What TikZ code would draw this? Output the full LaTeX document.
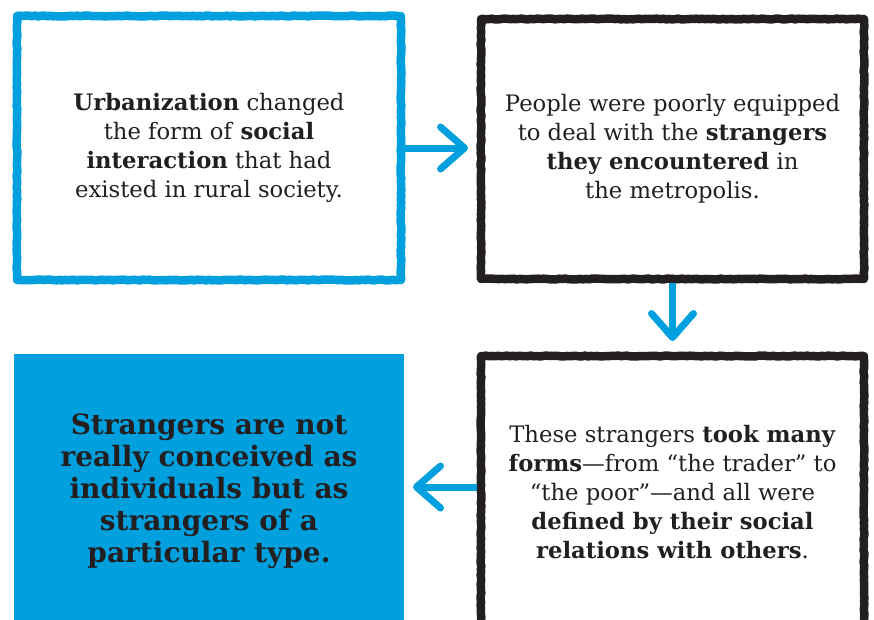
\documentclass[tikz,border=0pt]{standalone}
\usepackage{fontspec}
\setmainfont{DejaVu Serif}
\usetikzlibrary{arrows.meta, decorations.pathmorphing}

\definecolor{inkblue}{RGB}{0,160,222}
\definecolor{inkdark}{RGB}{35,31,32}

\begin{document}
\begin{tikzpicture}[x=1pt, y=-1pt,
    >={Straight Barb[round, length=24pt, width=42pt]},
    sketch/.style={decorate, decoration={random steps, segment length=3pt, amplitude=0.45pt},
                   line width=8.5pt, line join=round},
    box/.style={minimum width=383pt, inner sep=0pt, outer sep=0pt, align=center,
                text=inkdark, font=\fontsize{22.7}{29}\selectfont},
    flow/.style={->, draw=inkblue, line width=7pt, shorten <=4pt}]

    \pgfmathsetseed{11}

    % ── Page frame ───────────────────────────────────────────────────────────
    \useasboundingbox (0,0) rectangle (874,619);
    \clip (0,0) rectangle (874,619);

    % ── Top row ──────────────────────────────────────────────────────────────
    \node[box, sketch, draw=inkblue, minimum width=384pt, minimum height=264pt]
        (urban) at (209,148)
        {\textbf{Urbanization} changed\\the form of \textbf{social}\\
         \textbf{interaction} that had\\existed in rural society.};

    \node[box, sketch, draw=inkdark, minimum height=260pt]
        (people) at (672.5,149)
        {People were poorly equipped\\to deal with the \textbf{strangers}\\
         \textbf{they encountered} in\\the metropolis.};

    % ── Bottom row (runs off the page) ───────────────────────────────────────
    \node[box, sketch, draw=inkdark, minimum height=272pt]
        (forms) at (672.5,492)
        {These strangers \textbf{took many}\\\textbf{forms}---from “the trader” to\\
         “the poor”---and all were\\\textbf{defined by their social}\\
         \textbf{relations with others}.};

    \node[box, fill=inkblue, minimum width=390pt, minimum height=274pt,
          font=\bfseries\fontsize{28}{32}\selectfont]
        (types) at (209,491)
        {Strangers are not\\really conceived as\\individuals but as\\
         strangers of a\\particular type.};

    % ── Flow arrows ──────────────────────────────────────────────────────────
    \coordinate (tip) at ([yshift=4pt]types.east);

    \draw[flow, shorten >=13pt] (urban.east) -- (urban.east -| people.west);
    \draw[flow, shorten >=15pt] (people.south) -- (forms.north);
    \draw[flow, shorten >=9pt] (tip -| forms.west) -- (tip);

\end{tikzpicture}
\end{document}
